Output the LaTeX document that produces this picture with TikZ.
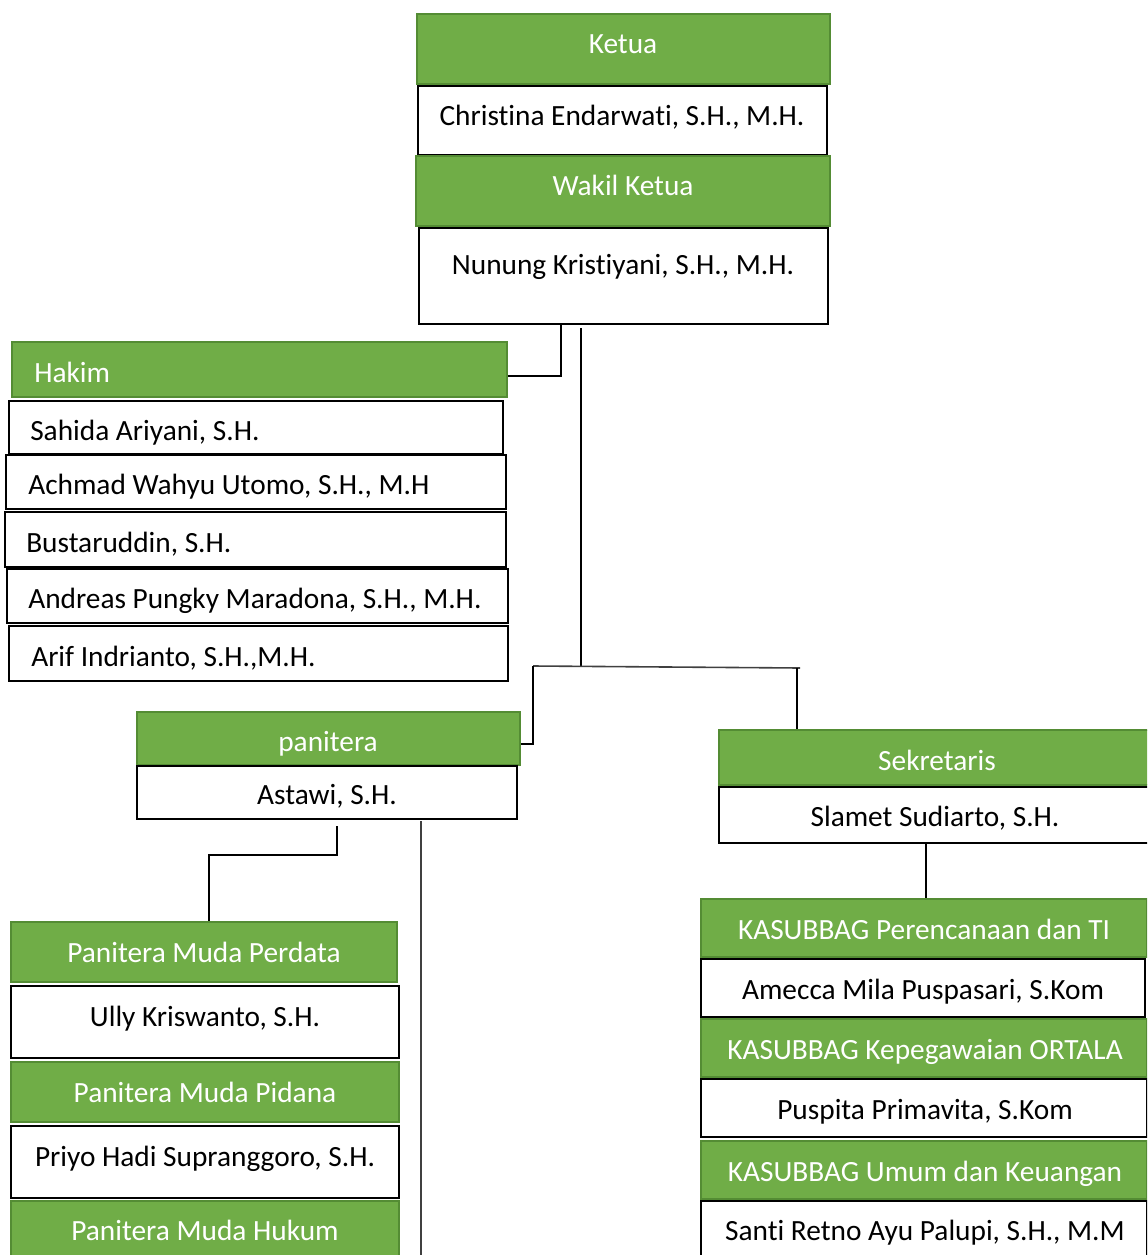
\documentclass[tikz,border=0pt]{standalone}
\usepackage{fontspec}
\setmainfont[Ligatures={NoCommon,NoContextual},Contextuals=NoAlternate]{Carlito}
\usetikzlibrary{fit}
\definecolor{gfill}{RGB}{112,173,71}
\definecolor{gline}{RGB}{84,140,52}
\tikzset{
  gbox/.style={draw=gline, fill=gfill, line width=1.5pt, inner sep=0pt},
  wbox/.style={draw=black, fill=white, line width=1.6pt, inner sep=0pt},
  wtxt/.style={text=white, anchor=base, inner sep=0pt, font=\fontsize{22}{25}\selectfont},
  btxt/.style={text=black, anchor=base, inner sep=0pt, font=\fontsize{22}{25}\selectfont},
  ltxt/.style={text=black, anchor=base west, inner sep=0pt, font=\fontsize{22}{25}\selectfont},
  lwtxt/.style={text=white, anchor=base west, inner sep=0pt, font=\fontsize{22}{25}\selectfont},
  conn/.style={draw=black, line width=1.5pt},
  thin/.style={draw=black!75, line width=0.9pt}
}
\begin{document}
\begin{tikzpicture}[x=0.75pt,y=-0.75pt]
\useasboundingbox (0,0) rectangle (1147,1255);
\clip (0,0) rectangle (1147,1255);
% top stack
\node[gbox, fit={(417,14) (830,84)}] (ketua) {};
\node[wtxt] (ketua-t) at (623,54) {Ketua};
\node[wbox, fit={(418,86) (827,155)}] (christina) {};
\node[btxt] (christina-t) at (622,126) {Christina Endarwati, S.H., M.H.};
\node[gbox, fit={(416,156) (830,226)}] (wakil) {};
\node[wtxt] (wakil-t) at (623,196) {Wakil Ketua};
\node[wbox, fit={(419,228) (828,324)}] (nunung) {};
\node[btxt] (nunung-t) at (623,274) {Nunung Kristiyani, S.H., M.H.};
% hakim
\node[gbox, fit={(12,342) (507,397)}] (hakim) {};
\node[lwtxt] (hakim-t) at (34,382) {Hakim};
\node[wbox, fit={(9,401) (503,454)}] (h1) {};
\node[ltxt] (h1-t) at (30,440) {Sahida Ariyani, S.H.};
\node[wbox, fit={(6,455) (506,509)}] (h2) {};
\node[ltxt] (h2-t) at (28,494) {Achmad Wahyu Utomo, S.H., M.H};
\node[wbox, fit={(5,512) (506,567)}] (h3) {};
\node[ltxt] (h3-t) at (26,552) {Bustaruddin, S.H.};
\node[wbox, fit={(7,569) (508,623)}] (h4) {};
\node[ltxt] (h4-t) at (28,608) {Andreas Pungky Maradona, S.H., M.H.};
\node[wbox, fit={(9,626) (508,681)}] (h5) {};
\node[ltxt] (h5-t) at (31,666) {Arif Indrianto, S.H.,M.H.};
% panitera
\node[gbox, fit={(137,712) (520,765)}] (panitera) {};
\node[wtxt] (panitera-t) at (328,751) {panitera};
\node[wbox, fit={(137,766) (517,819)}] (astawi) {};
\node[btxt] (astawi-t) at (327,804) {Astawi, S.H.};
% sekretaris
\node[gbox, fit={(719,730) (1155,785)}] (sekretaris) {};
\node[wtxt] (sekretaris-t) at (937,770) {Sekretaris};
\node[wbox, fit={(719,787) (1155,843)}] (slamet) {};
\node[btxt] (slamet-t) at (935,826) {Slamet Sudiarto, S.H.};
% kasubbag
\node[gbox, fit={(701,899) (1147,957)}] (k1) {};
\node[wtxt] (k1-t) at (924,939) {KASUBBAG Perencanaan dan TI};
\node[wbox, fit={(701,959) (1145,1017)}] (amecca) {};
\node[btxt] (amecca-t) at (923,999) {Amecca Mila Puspasari, S.Kom};
\node[gbox, fit={(701,1019) (1147,1077)}] (k2) {};
\node[wtxt] (k2-t) at (925,1059) {KASUBBAG Kepegawaian ORTALA};
\node[wbox, fit={(701,1079) (1147,1137)}] (puspita) {};
\node[btxt] (puspita-t) at (925,1119) {Puspita Primavita, S.Kom};
\node[gbox, fit={(701,1141) (1147,1199)}] (k3) {};
\node[wtxt] (k3-t) at (925,1181) {KASUBBAG Umum dan Keuangan};
\node[wbox, fit={(701,1201) (1147,1270)}] (santi) {};
\node[btxt] (santi-t) at (925,1240) {Santi Retno Ayu Palupi, S.H., M.M};
% panitera muda
\node[gbox, fit={(11,922) (397,982)}] (pm1) {};
\node[wtxt] (pm1-t) at (204,962) {Panitera Muda Perdata};
\node[wbox, fit={(11,986) (399,1058)}] (ully) {};
\node[btxt] (ully-t) at (205,1026) {Ully Kriswanto, S.H.};
\node[gbox, fit={(11,1062) (399,1122)}] (pm2) {};
\node[wtxt] (pm2-t) at (205,1102) {Panitera Muda Pidana};
\node[wbox, fit={(11,1126) (399,1198)}] (priyo) {};
\node[btxt] (priyo-t) at (205,1166) {Priyo Hadi Supranggoro, S.H.};
\node[gbox, fit={(11,1201) (399,1270)}] (pm3) {};
\node[wtxt] (pm3-t) at (205,1240) {Panitera Muda Hukum};
% connectors
\coordinate (c561) at (561,376);
\coordinate (c581) at (581,328);
\coordinate (jl) at (533,666);
\coordinate (jr) at (800,668);
\coordinate (c797) at (797,668);
\coordinate (c337) at (337,826);
\coordinate (c209) at (209,855);
\coordinate (c421) at (421,821);
\coordinate (cbot) at (421,1255);
\coordinate (pk) at (533,744);
\coordinate (pkb) at (533,745);
\draw[conn] (nunung.south -| c561) -- (c561) -- (c561 -| hakim.east);
\draw[conn] (c581) -- (581,667);
\draw[thin, line width=1.2pt] (jl) -- (jr);
\draw[conn] (jl) -- (pkb);
\draw[conn] (panitera.east |- pk) -- (pk);
\draw[conn] (c797) -- (sekretaris.north -| c797);
\draw[conn] (c337) -- (c337 |- c209) -- (c209) -- (c209 |- pm1.north);
\draw[thin] (c421) -- (cbot);
\draw[conn] (slamet.south -| 926,0) -- (k1.north -| 926,0);
\end{tikzpicture}
\end{document}
